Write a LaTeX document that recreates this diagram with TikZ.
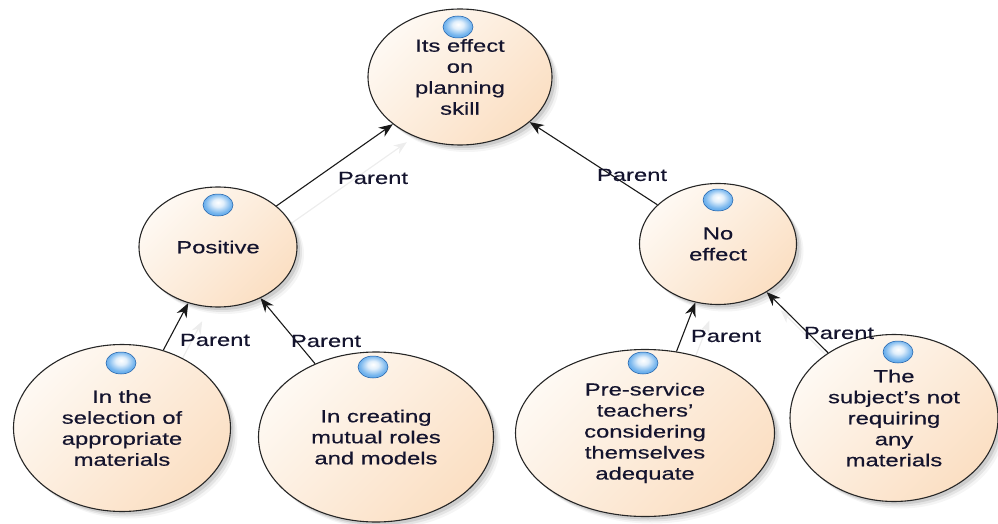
\documentclass[tikz,border=0pt]{standalone}
\usepackage{fontspec}
\setmainfont[FakeStretch=1.36,FakeBold=0.5]{Liberation Sans}
\usetikzlibrary{arrows.meta,shapes.geometric,shadows,backgrounds}
\definecolor{creamA}{HTML}{FEF9F3}
\definecolor{creamB}{HTML}{FBDFC3}
\definecolor{txt}{HTML}{14142E}
\definecolor{ballblue}{HTML}{3A95E6}
\definecolor{balledge}{HTML}{1C5CA6}
\pgfdeclareradialshading{markerball}{\pgfpoint{0bp}{6bp}}{%
  color(0bp)=(white); color(9bp)=(white!85!ballblue); color(22bp)=(ballblue!70!white);
  color(36bp)=(ballblue); color(44bp)=(balledge); color(50bp)=(balledge)}
\begin{document}
\begin{tikzpicture}[x=1pt,y=-1pt,
  concept/.style={ellipse, draw=black!85, line width=1.1pt,
    top color=creamA, bottom color=creamB, shading angle=45,
    inner sep=0pt, align=center, text=txt,
    font=\fontsize{17.5}{21}\selectfont,
    drop shadow={shadow xshift=3pt, shadow yshift=-3pt, opacity=0.10, fill=black},
    drop shadow={shadow xshift=5pt, shadow yshift=-5pt, opacity=0.07, fill=black},
    drop shadow={shadow xshift=7pt, shadow yshift=-7pt, opacity=0.04, fill=black}},
  ballnode/.style={ellipse, inner sep=0pt, minimum width=30pt, minimum height=22pt,
    shading=markerball, draw=balledge, line width=0.5pt},
  edge/.style={draw=black!90, line width=1.1pt, -{Stealth[length=14pt,width=11pt]}},
  ghost/.style={draw=black!7, line width=1.2pt, -{Stealth[length=13pt,width=10pt]},
    transform canvas={shift={(14pt,-18pt)}}},
  lbl/.style={inner sep=0pt, text=txt, font=\fontsize{17.5}{21}\selectfont}
]
\useasboundingbox (0,0) rectangle (998,524);

% concept ellipses
\node[concept, minimum width=184pt, minimum height=136pt] (top) at (460,77)
  {Its effect\\on\\planning\\skill};
\node[concept, minimum width=158pt, minimum height=120pt] (pos) at (218,247)
  {Positive};
\node[concept, minimum width=157pt, minimum height=121pt] (noe) at (718,244)
  {No\\effect};
\node[concept, minimum width=217pt, minimum height=167pt] (sel) at (122,428)
  {In the\\selection of\\appropriate\\materials};
\node[concept, minimum width=235pt, minimum height=170pt] (cre) at (376,437)
  {In creating\\mutual roles\\and models};
\node[concept, minimum width=259pt, minimum height=167pt] (pre) at (645,433)
  {Pre-service\\teachers'\\considering\\themselves\\adequate};
\node[concept, minimum width=208pt, minimum height=167pt] (sub) at (894,418)
  {The\\subject's not\\requiring\\any\\materials};

% blue markers
\node[ballnode] (btop) at (458,27) {};
\node[ballnode] (bpos) at (218,205) {};
\node[ballnode] (bnoe) at (718,200) {};
\node[ballnode] (bsel) at (121,363) {};
\node[ballnode] (bcre) at (373,367) {};
\node[ballnode] (bpre) at (643,363) {};
\node[ballnode] (bsub) at (898,352) {};

% faint ghost connectors
\begin{scope}[on background layer]
  \draw[ghost] (pos) -- (top);
  \draw[ghost] (sel) -- (pos);
  \draw[ghost] (pre) -- (noe);
  \draw[ghost] (sub) -- (noe);
\end{scope}

% connectors
\draw[edge] (pos) -- (top);
\draw[edge] (noe) -- (top);
\draw[edge] (sel) -- (pos);
\draw[edge] (cre) -- (pos);
\draw[edge] (pre) -- (noe);
\draw[edge] (sub) -- (noe);

% labels
\node[lbl] (l1) at (373,178) {Parent};
\node[lbl] (l2) at (632,175) {Parent};
\node[lbl] (l3) at (215,340) {Parent};
\node[lbl] (l4) at (326,341) {Parent};
\node[lbl] (l5) at (726,336) {Parent};
\node[lbl] (l6) at (839,333) {Parent};
\end{tikzpicture}
\end{document}
